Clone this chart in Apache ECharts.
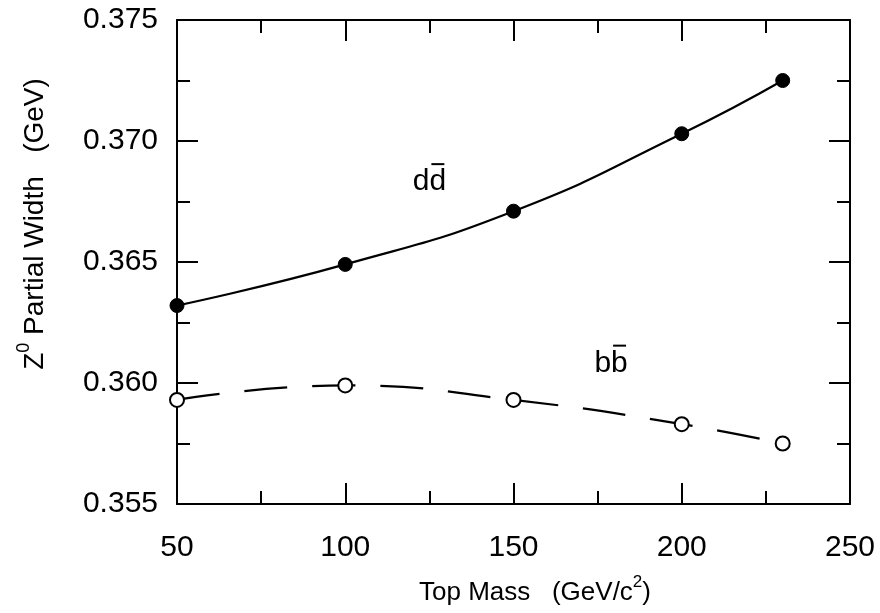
<!DOCTYPE html>
<html>
<head>
<meta charset="utf-8">
<script src="https://cdn.jsdelivr.net/npm/echarts@6/dist/echarts.min.js"></script>
<style>
  html, body { margin: 0; padding: 0; background: #fff; }
  #container { width: 880px; height: 613px; }
</style>
</head>
<body>
<div id="container"></div>
<script type="text/javascript">
    // values
    var topMass = [50, 100, 150, 200, 230];
    var ddWidth = [0.3632, 0.3649, 0.3671, 0.3703, 0.3725];
    var bbWidth = [0.3593, 0.3599, 0.3593, 0.3583, 0.3575];
    var xRange = [50, 250];
    var yRange = [0.355, 0.375];

    var FONT = '"Liberation Sans", Arial, Helvetica, sans-serif';
    var dom = document.getElementById("container");
    var myChart = echarts.init(dom);

    function pairs(xs, ys) {
        var out = [];
        for (var i = 0; i < xs.length; i++) out.push([xs[i], ys[i]]);
        return out;
    }

    var tickStyle = {
        axisLine: {show: true, lineStyle: {color: '#000', width: 2}},
        axisTick: {show: true, inside: true, length: 21, lineStyle: {color: '#000', width: 2}},
        minorTick: {show: true, splitNumber: 2, length: 13, lineStyle: {color: '#000', width: 2}},
        splitLine: {show: false}
    };

    var option = {
        backgroundColor: '#fff',
        animation: false,
        grid: {left: 177, right: 30, top: 20, bottom: 109},
        xAxis: [
            Object.assign({
                type: 'value', position: 'bottom',
                min: xRange[0], max: xRange[1], interval: 50,
                axisLabel: {color: '#000', fontSize: 30, fontFamily: FONT, margin: 29}
            }, tickStyle),
            Object.assign({
                type: 'value', position: 'top',
                min: xRange[0], max: xRange[1], interval: 50,
                axisLabel: {show: false}
            }, tickStyle)
        ],
        yAxis: [
            Object.assign({
                type: 'value', position: 'left',
                min: yRange[0], max: yRange[1], interval: 0.005,
                axisLabel: {color: '#000', fontSize: 30, fontFamily: FONT, margin: 19,
                    formatter: function (v) { return v.toFixed(3); }}
            }, tickStyle),
            Object.assign({
                type: 'value', position: 'right',
                min: yRange[0], max: yRange[1], interval: 0.005,
                axisLabel: {show: false}
            }, tickStyle)
        ],
        series: [
            {
                name: 'dd',
                type: 'line',
                smooth: true,
                clip: false,
                data: pairs(topMass, ddWidth),
                symbol: 'circle',
                symbolSize: 14,
                lineStyle: {color: '#000', width: 2.2},
                itemStyle: {color: '#000', borderColor: '#000', borderWidth: 1}
            },
            {
                name: 'bb',
                type: 'line',
                smooth: true,
                clip: false,
                data: pairs(topMass, bbWidth),
                symbol: 'circle',
                symbolSize: 14,
                lineStyle: {color: '#000', width: 2.2, type: [43, 25]},
                itemStyle: {color: '#fff', borderColor: '#000', borderWidth: 2}
            }
        ],
        graphic: [
            {
                type: 'text', x: 535, y: 590,
                style: {
                    text: '{a|Top Mass   (GeV/c}{s|2}{a|)}',
                    align: 'center', verticalAlign: 'middle',
                    rich: {
                        a: {fontSize: 26, fontFamily: FONT, fill: '#000', lineHeight: 32, verticalAlign: 'bottom'},
                        s: {fontSize: 17, fontFamily: FONT, fill: '#000', lineHeight: 32, verticalAlign: 'top'}
                    }
                }
            },
            {
                type: 'text', x: 32, y: 224, rotation: Math.PI / 2,
                style: {
                    text: '{a|Z}{s|0}{a| Partial Width   (GeV)}',
                    align: 'center', verticalAlign: 'middle',
                    rich: {
                        a: {fontSize: 28, fontFamily: FONT, fill: '#000', lineHeight: 34, verticalAlign: 'bottom'},
                        s: {fontSize: 18, fontFamily: FONT, fill: '#000', lineHeight: 34, verticalAlign: 'top'}
                    }
                }
            }
        ]
    };
    myChart.setOption(option, true);

    // curve labels, placed in data coordinates
    var ddPos = myChart.convertToPixel({gridIndex: 0}, [125, 0.3683]);
    var bbPos = myChart.convertToPixel({gridIndex: 0}, [179, 0.3608]);
    function pairLabel(ch, p) {
        return [
            {type: 'text', x: p[0], y: p[1],
             style: {text: ch + ch, fontSize: 30, fontFamily: FONT, fill: '#000', align: 'center', verticalAlign: 'middle'}},
            {type: 'line', shape: {x1: p[0] + 2, y1: p[1] - 18, x2: p[0] + 15, y2: p[1] - 18},
             style: {stroke: '#000', lineWidth: 2}}
        ];
    }
    myChart.setOption({graphic: option.graphic.concat(pairLabel('d', ddPos), pairLabel('b', bbPos))});
</script>
</body>
</html>
